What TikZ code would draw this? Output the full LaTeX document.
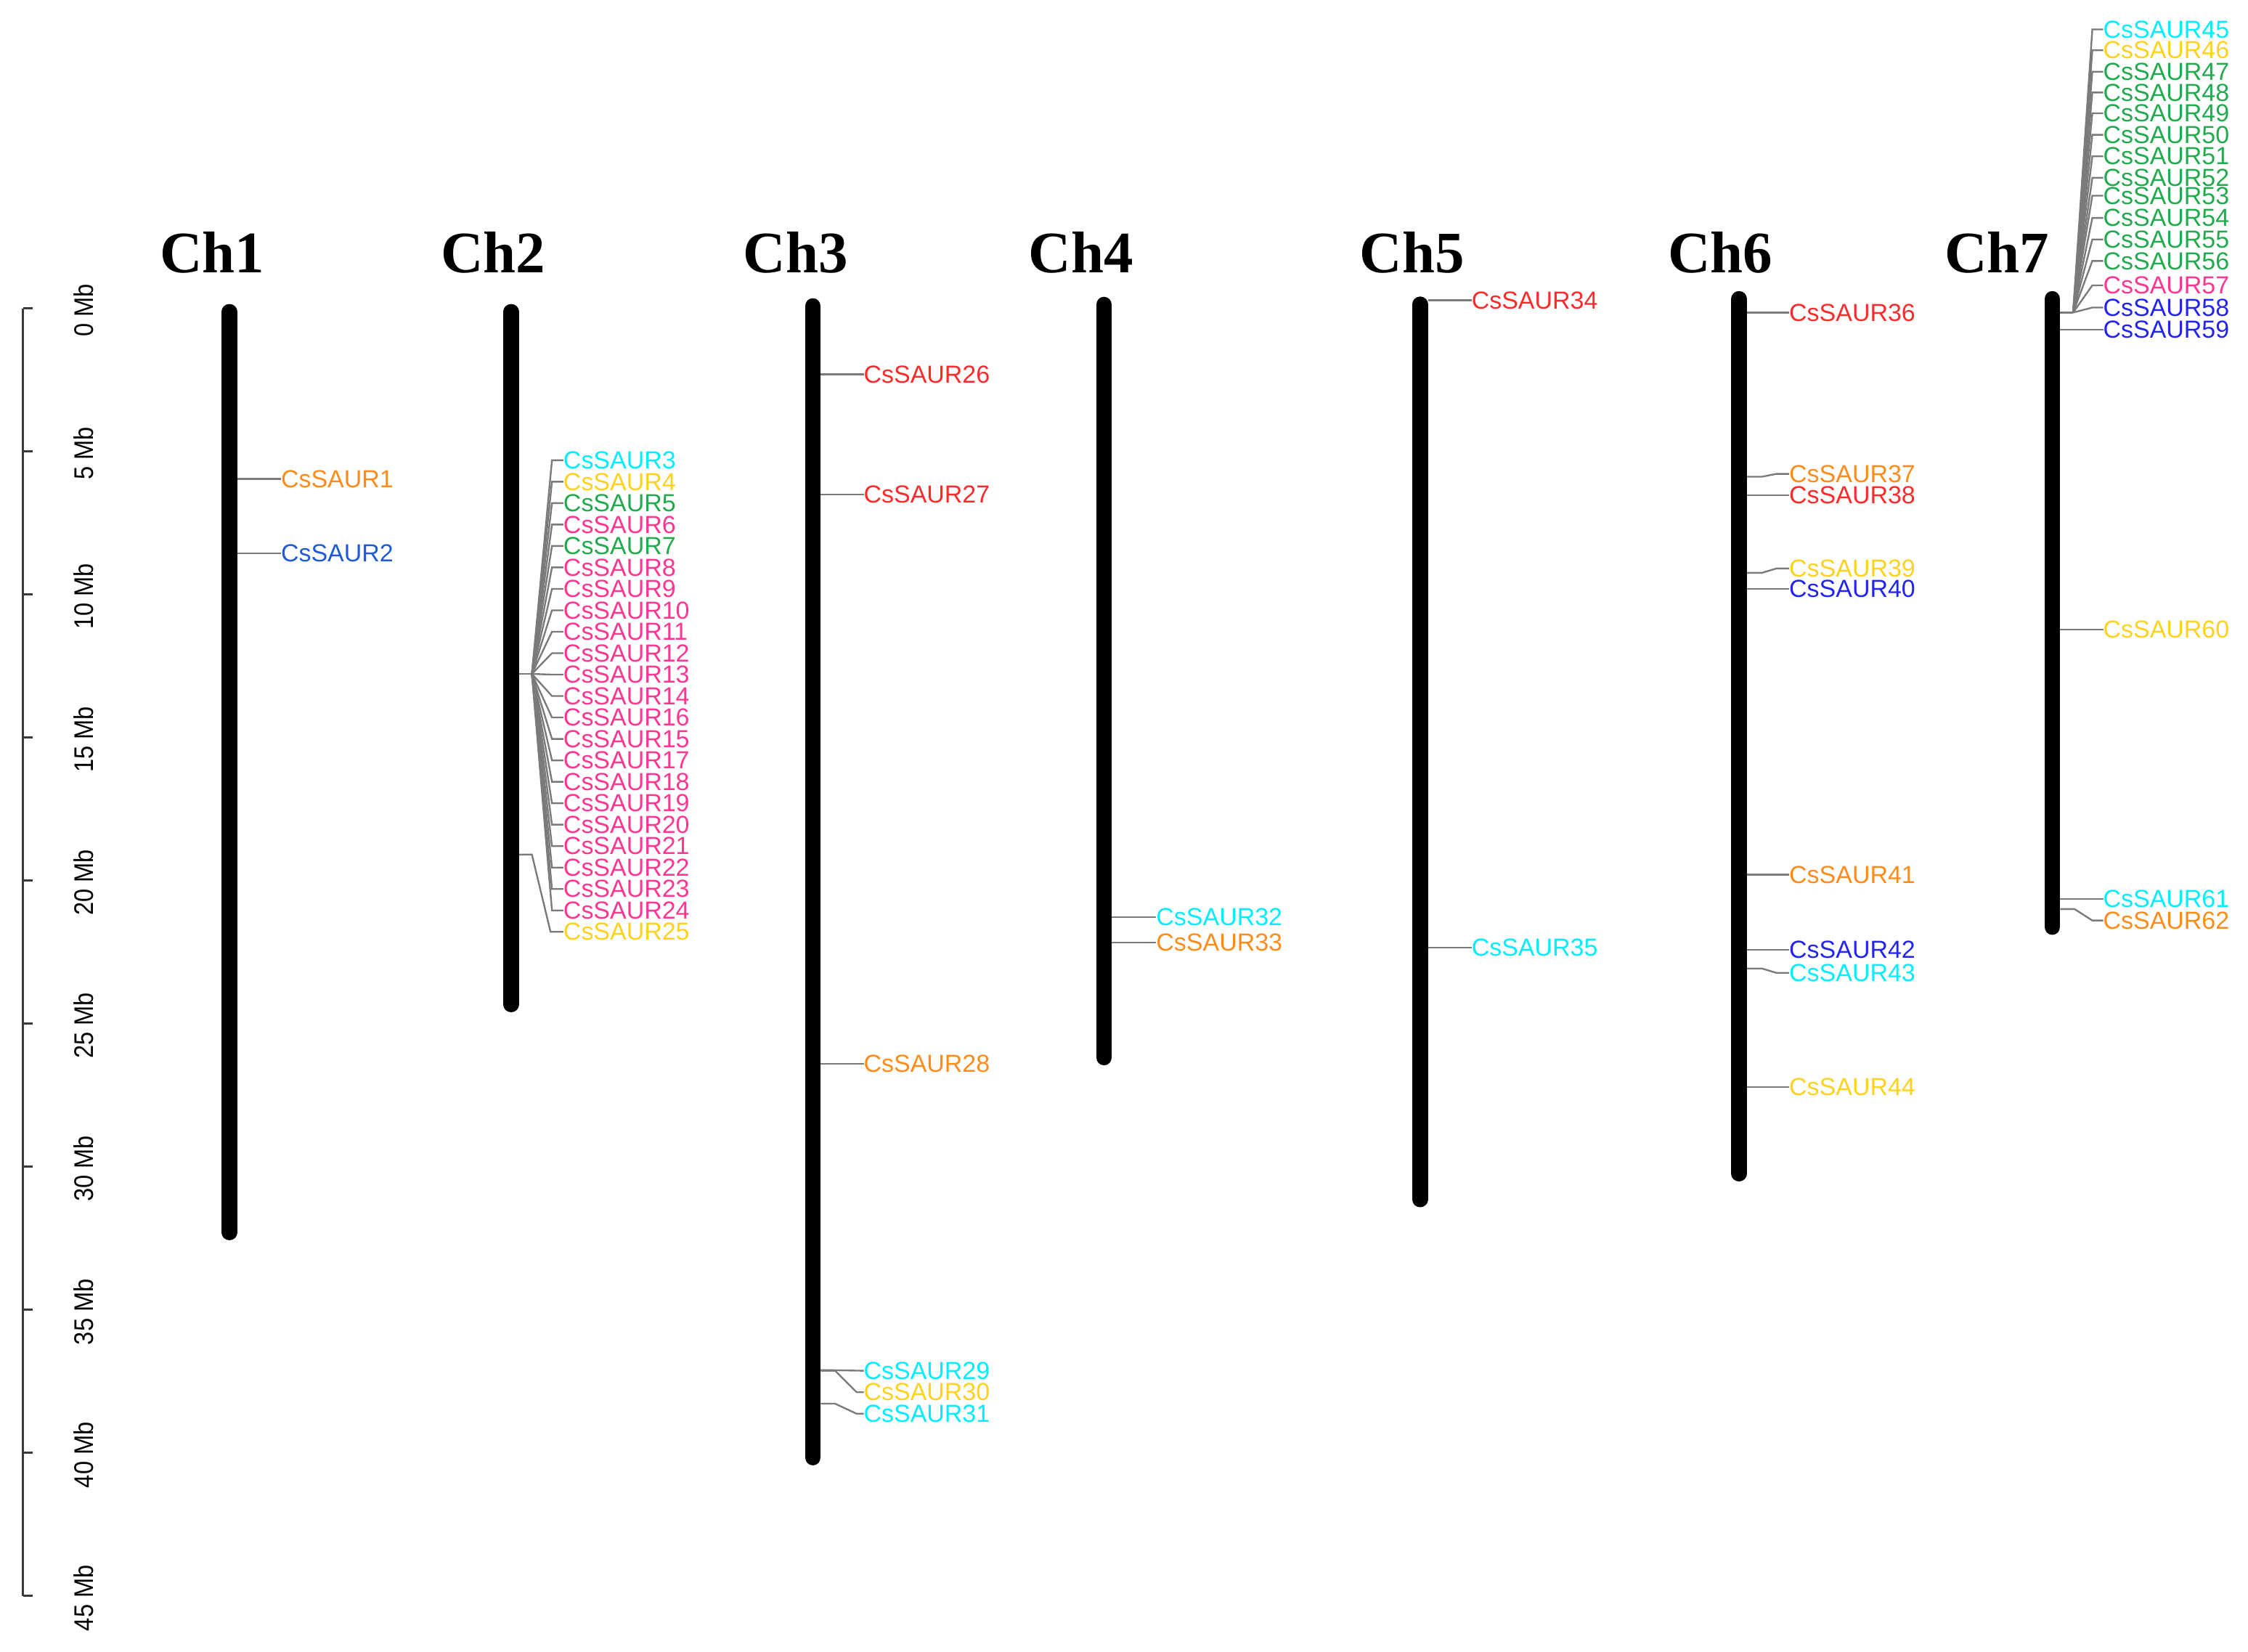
\documentclass[tikz,border=0pt]{standalone}
\usepackage{fontspec}
\setmainfont{Liberation Sans}
\newfontfamily\chfont{Liberation Serif}
\usetikzlibrary{calc}
\definecolor{cCyan}{HTML}{00EEFF}
\definecolor{cGold}{HTML}{FFD21F}
\definecolor{cGreen}{HTML}{22AA4E}
\definecolor{cPink}{HTML}{FF3791}
\definecolor{cRed}{HTML}{FF2B2B}
\definecolor{cOrange}{HTML}{FF8C1A}
\definecolor{cBlue}{HTML}{2424F0}
\definecolor{cRoyal}{HTML}{1F5BD8}
\definecolor{cGray}{HTML}{7A7A7A}
\definecolor{cAxis}{HTML}{3A3A3A}
\tikzset{
  chrom/.style={line width=5.5pt, line cap=round, draw=black},
  conn/.style={draw=cGray, line width=0.6pt},
  axisline/.style={draw=cAxis, line width=0.8pt},
  gl/.style={anchor=west, inner sep=0pt, outer sep=0pt, font=\fontsize{8.6}{8.6}\selectfont},
  chl/.style={anchor=base, inner sep=0pt, font=\chfont\bfseries\fontsize{20.5}{20.5}\selectfont},
  axl/.style={rotate=90, inner sep=0pt, font=\fontsize{9.4}{9.4}\selectfont},
}
\newcommand{\mkgene}[5]{%
  \coordinate (s#1) at (#2,#3);
  \node[gl,text=#5] (g#1) at (#4,#3) {CsSAUR#1};
  \draw[conn] (s#1) -- (g#1.west);}
% id, edge x, source y, label x, label y, colour, horizontal run, end run
\newcommand{\mkbent}[8]{%
  \coordinate (s#1) at (#2,#3);
  \node[gl,text=#6] (g#1) at (#4,#5) {CsSAUR#1};
  \draw[conn] (s#1) -- ++(#7,0) -- ($(g#1.west)+(-#8,0)$) -- (g#1.west);}
\begin{document}
\begin{tikzpicture}[x=0.5pt,y=-0.5pt]
\useasboundingbox (0,0) rectangle (1568,1152);

% scale axis
\coordinate (atop) at (16,215);
\coordinate (abot) at (16,1113);
\draw[axisline] (atop) -- (abot);
\foreach \k in {0,...,9}{
  \pgfmathsetmacro\yy{215+\k*99.78}
  \pgfmathtruncatemacro\mb{5*\k}
  \coordinate (t\k) at (16,\yy);
  \draw[axisline] (t\k) -- ++(7,0);
  \node[axl] (ax\k) at (58.5,\yy+1.5) {\scalebox{0.88}[1]{\mb\ Mb}};
}

% chromosome labels
\node[chl] (ch1) at (148,190) {Ch1};
\node[chl] (ch2) at (344,190) {Ch2};
\node[chl] (ch3) at (555,190) {Ch3};
\node[chl] (ch4) at (754,190) {Ch4};
\node[chl] (ch5) at (985,190) {Ch5};
\node[chl] (ch6) at (1200,190) {Ch6};
\node[chl] (ch7) at (1393,190) {Ch7};

% chromosomes
\coordinate (c1t) at (160,217.5);   \coordinate (c1b) at (160,859.5);
\coordinate (c2t) at (356.5,217.5); \coordinate (c2b) at (356.5,700.5);
\coordinate (c3t) at (567,213.5);   \coordinate (c3b) at (567,1016.5);
\coordinate (c4t) at (770,212.5);   \coordinate (c4b) at (770,737.5);
\coordinate (c5t) at (990.5,212.3); \coordinate (c5b) at (990.5,836.5);
\coordinate (c6t) at (1213,208.5);  \coordinate (c6b) at (1213,818.5);
\coordinate (c7t) at (1431.5,208.5);\coordinate (c7b) at (1431.5,646.5);
\foreach \c in {1,...,7}{\draw[chrom] (c\c t) -- (c\c b);}

% Ch1
\mkgene{1}{165.5}{334}{196}{cOrange}
\mkgene{2}{165.5}{386}{196}{cRoyal}

% Ch2
\coordinate (e2) at (362,470);
\coordinate (h2) at (371,470);
\draw[conn] (e2) -- (h2);
\foreach \n/\cc [count=\i from 0] in {3/cCyan,4/cGold,5/cGreen,6/cPink,7/cGreen,8/cPink,9/cPink,10/cPink,11/cPink,12/cPink,13/cPink,14/cPink,16/cPink,15/cPink,17/cPink,18/cPink,19/cPink,20/cPink,21/cPink,22/cPink,23/cPink,24/cPink}{
  \pgfmathsetmacro\yy{321+14.95*\i}
  \node[gl,text=\cc] (g\n) at (393,\yy) {CsSAUR\n};
  \draw[conn] (h2) -- ($(g\n.west)+(-8,0)$) -- (g\n.west);
}
\mkbent{25}{362}{596}{393}{649.9}{cGold}{9}{9}

% Ch3
\mkgene{26}{572.5}{261}{602.5}{cRed}
\mkgene{27}{572.5}{345}{602.5}{cRed}
\mkgene{28}{572.5}{742}{602.5}{cOrange}
\coordinate (s29) at (572.5,955.5);
\node[gl,text=cCyan] (g29) at (602.5,956) {CsSAUR29};
\draw[conn] (s29) -- (g29.west);
\mkbent{30}{572.5}{956}{602.5}{971}{cGold}{10}{5}
\mkbent{31}{572.5}{979}{602.5}{986}{cCyan}{10}{5}

% Ch4
\mkgene{32}{775.5}{639.5}{806.5}{cCyan}
\mkgene{33}{775.5}{657.5}{806.5}{cOrange}

% Ch5
\mkgene{34}{996}{209.5}{1026.5}{cRed}
\mkgene{35}{996}{661}{1026.5}{cCyan}

% Ch6
\mkgene{36}{1218.5}{218}{1248}{cRed}
\mkbent{37}{1218.5}{332.5}{1248}{330.5}{cOrange}{10.5}{9}
\mkgene{38}{1218.5}{345.5}{1248}{cRed}
\mkbent{39}{1218.5}{399.5}{1248}{396.5}{cGold}{10.5}{9}
\mkgene{40}{1218.5}{410.6}{1248}{cBlue}
\mkgene{41}{1218.5}{610}{1248}{cOrange}
\mkgene{42}{1218.5}{662.5}{1248}{cBlue}
\mkbent{43}{1218.5}{675.5}{1248}{678.5}{cCyan}{10.5}{9}
\mkgene{44}{1218.5}{758}{1248}{cGold}

% Ch7
\coordinate (e7) at (1437,218);
\coordinate (h7) at (1446,218);
\draw[conn] (e7) -- (h7);
\foreach \n/\yy/\cc in {45/20.5/cCyan,46/35/cGold,47/50/cGreen,48/64.5/cGreen,49/79/cGreen,50/94/cGreen,51/109/cGreen,52/124/cGreen,53/136.5/cGreen,54/152/cGreen,55/167/cGreen,56/182/cGreen,57/199/cPink,58/214.5/cBlue}{
  \node[gl,text=\cc] (g\n) at (1467,\yy) {CsSAUR\n};
  \draw[conn] (h7) -- ($(g\n.west)+(-7.6,0)$) -- (g\n.west);
}
\mkgene{59}{1437}{230}{1467}{cBlue}
\mkgene{60}{1437}{439}{1467}{cGold}
\mkgene{61}{1437}{627}{1467}{cCyan}
\mkbent{62}{1437}{634}{1467}{642}{cOrange}{10}{7.6}
\end{tikzpicture}
\end{document}
